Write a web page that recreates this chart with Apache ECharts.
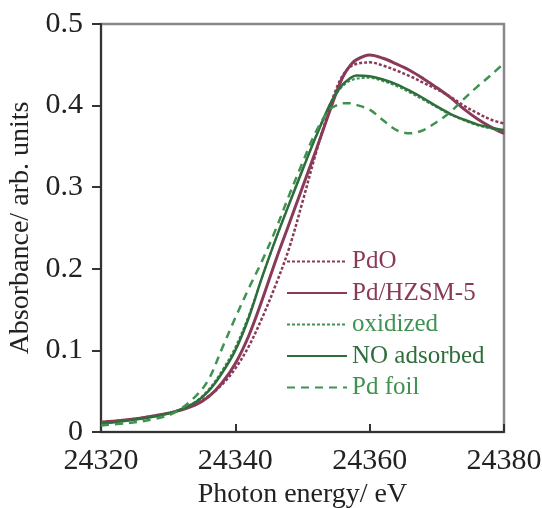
<!DOCTYPE html>
<html><head><meta charset="utf-8">
<script src="https://cdn.jsdelivr.net/npm/echarts@6/dist/echarts.min.js"></script>
<style>html,body{margin:0;padding:0;background:#fff}#c{width:542px;height:508px}</style>
</head><body><div id="c"></div>
<script>
const energy = [24320,24324,24328,24331,24334,24336,24338,24340,24342,24344,24346,24348,24350,24352,24354,24355,24356,24357,24358,24360,24362,24364,24366,24368,24370,24372,24374,24376,24378,24380];
const pdo      = [0.012,0.015,0.020,0.025,0.034,0.044,0.058,0.078,0.105,0.140,0.180,0.225,0.282,0.342,0.396,0.420,0.437,0.447,0.451,0.453,0.449,0.443,0.436,0.428,0.420,0.411,0.400,0.391,0.383,0.378];
const pdHZSM5  = [0.012,0.015,0.020,0.025,0.033,0.043,0.060,0.084,0.118,0.162,0.210,0.255,0.300,0.345,0.392,0.415,0.435,0.448,0.456,0.462,0.458,0.451,0.443,0.433,0.422,0.410,0.396,0.384,0.374,0.366];
const oxidized = [0.010,0.014,0.019,0.025,0.037,0.052,0.075,0.104,0.143,0.190,0.236,0.280,0.322,0.363,0.400,0.414,0.424,0.430,0.433,0.434,0.430,0.424,0.416,0.407,0.398,0.389,0.382,0.376,0.372,0.369];
const noAds    = [0.010,0.014,0.019,0.025,0.036,0.050,0.072,0.100,0.140,0.190,0.236,0.279,0.321,0.362,0.400,0.415,0.426,0.433,0.437,0.436,0.432,0.426,0.418,0.409,0.399,0.390,0.383,0.377,0.373,0.370];
const pdFoil   = [0.008,0.011,0.016,0.024,0.043,0.064,0.102,0.140,0.176,0.210,0.248,0.290,0.330,0.368,0.395,0.400,0.403,0.403,0.401,0.395,0.382,0.370,0.366,0.370,0.380,0.392,0.408,0.423,0.437,0.452];
const seriesNames = ['PdO','Pd/HZSM-5','oxidized','NO adsorbed','Pd foil'];
const yTicks = [0,0.1,0.2,0.3,0.4,0.5];
const xTicks = [24320,24340,24360,24380];

const maroon = '#8a3a58', green = '#3f9250', dgreen = '#2f6e3c';
const font = '"Liberation Serif","DejaVu Serif",serif';
const pairs = ys => energy.map((e,i)=>[e, ys[i]]);
const mk = (name, ys, color, width, type) => ({
  name, type:'line', data: pairs(ys), smooth: 0.35, showSymbol:false, symbol:'none',
  lineStyle:{color, width, type}, itemStyle:{color}, z: 3
});
const chart = echarts.init(document.getElementById('c'), null, {renderer:'canvas'});
chart.setOption({
  animation:false,
  backgroundColor:'#fff',
  grid:{left:101,right:38,top:24,bottom:76,containLabel:false,outerBoundsMode:'none',
    show:true,borderColor:'#888',borderWidth:2.5,backgroundColor:'transparent'},
  legend:{
    orient:'vertical', left:281, top:244, itemWidth:60, itemHeight:14, itemGap:6.5,
    itemStyle:{opacity:0},
    textStyle:{fontFamily:font,fontSize:25},
    data:[
      {name:seriesNames[0], textStyle:{color:maroon}},
      {name:seriesNames[1], textStyle:{color:maroon}},
      {name:seriesNames[2], textStyle:{color:green}},
      {name:seriesNames[3], textStyle:{color:dgreen}},
      {name:seriesNames[4], textStyle:{color:green}}
    ]
  },
  xAxis:{
    type:'value', min:xTicks[0], max:xTicks[xTicks.length-1], interval:20,
    name:'Photon energy/ eV', nameLocation:'middle', nameGap:49,
    nameTextStyle:{fontFamily:font,fontSize:28,color:'#222'},
    axisLine:{lineStyle:{color:'#333',width:2}},
    axisTick:{inside:true,length:8,lineStyle:{color:'#333',width:2}},
    axisLabel:{fontFamily:font,fontSize:30,color:'#222',margin:14, formatter: v => String(v)},
    splitLine:{show:false}
  },
  yAxis:{
    type:'value', min:0, max:0.5, interval:0.1,
    name:'Absorbance/ arb. units', nameLocation:'middle', nameGap:60,
    nameTextStyle:{fontFamily:font,fontSize:28,color:'#222'},
    axisLine:{show:true,lineStyle:{color:'#333',width:2}},
    axisTick:{show:true,inside:false,length:9,lineStyle:{color:'#333',width:2}},
    axisLabel:{fontFamily:font,fontSize:30,color:'#222',margin:18,
      formatter: v => v===0 ? '0' : String(Math.round(v*10)/10)},
    splitLine:{show:false}
  },
  series:[
    mk(seriesNames[0], pdo, maroon, 2.5, [3,2]),
    mk(seriesNames[1], pdHZSM5, maroon, 3, 'solid'),
    mk(seriesNames[2], oxidized, green, 2, [3,2]),
    mk(seriesNames[3], noAds, dgreen, 2.5, 'solid'),
    mk(seriesNames[4], pdFoil, green, 2.5, [8,6])
  ]
});
</script></body></html>
